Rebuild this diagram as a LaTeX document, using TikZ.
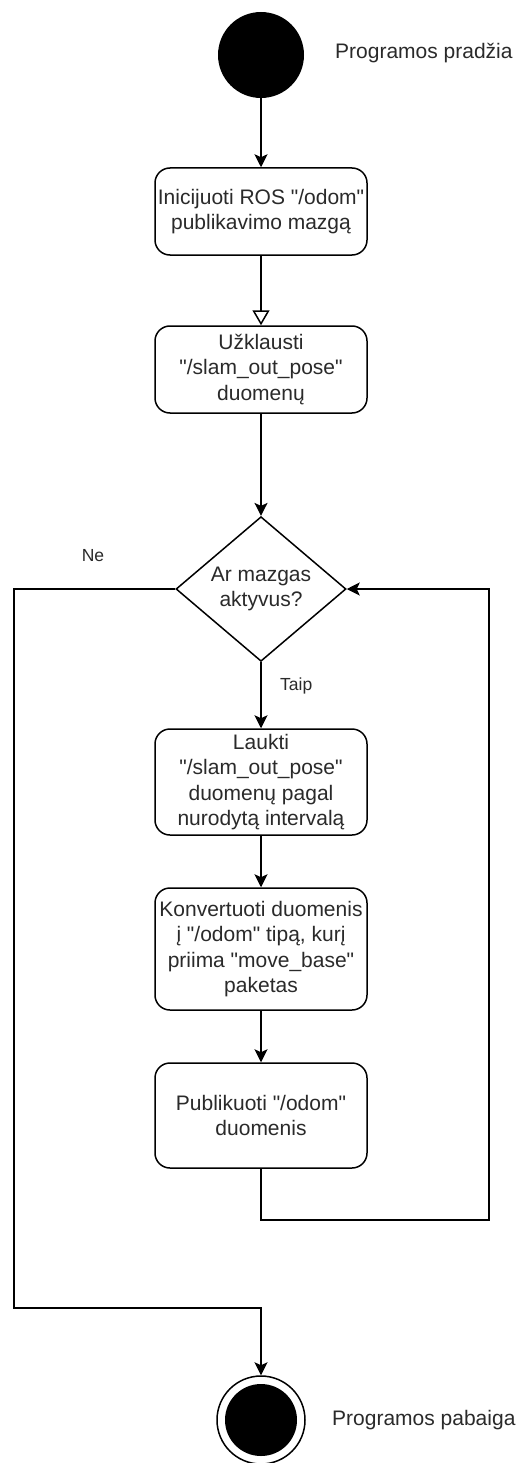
\documentclass[tikz,border=0pt]{standalone}
\usepackage{fontspec}
\setmainfont{Liberation Sans}
\usetikzlibrary{shapes.geometric,arrows.meta}
\definecolor{txt}{HTML}{2a2a2a}
\newcommand{\dq}{\textquotedbl}
\tikzset{
  x=1pt, y=-1pt,
  every node/.style={text=txt},
  flow/.style={line width=1.5pt, draw=black},
  arr/.style={flow, -{Stealth[length=13pt,width=13pt,inset=3pt]}},
  openarr/.style={flow, -{Triangle[open,length=15pt,width=17pt,fill=white]}},
  action/.style={draw=black, line width=1.5pt, rounded corners=15pt, fill=white,
    minimum width=212pt, inner sep=0pt, align=center,
    font=\fontsize{21}{25.5}\selectfont},
  decision/.style={diamond, draw=black, line width=1.5pt, fill=white, inner sep=0pt,
    minimum width=170pt, minimum height=138pt, align=center,
    font=\fontsize{21}{25.5}\selectfont},
  caption/.style={font=\fontsize{21}{25}\selectfont, anchor=west, inner sep=0pt},
  guard/.style={font=\fontsize{17.5}{21}\selectfont, inner sep=0pt}
}
\begin{document}
\begin{tikzpicture}
\useasboundingbox (0,0) rectangle (518,1463);

% initial and final states
\node[circle, fill=black, minimum size=86pt, inner sep=0pt] (start) at (261,55) {};
\node[caption] (startlbl) at (335,53) {Programos pradžia};

\node[circle, draw=black, line width=1.5pt, fill=white, minimum size=88pt, inner sep=0pt,
  path picture={\fill[black] (path picture bounding box.center) circle (36pt);}]
  (stop) at (261,1420) {};
\node[caption] (stoplbl) at (332,1420) {Programos pabaiga};

% actions
\node[action, minimum height=87pt] (b1) at (261,211.5)
  {Inicijuoti ROS \dq/odom\dq\\publikavimo mazgą};
\node[action, minimum height=87pt] (b2) at (261,369.5)
  {Užklausti\\\dq/slam\_out\_pose\dq\\duomenų};
\node[decision] (dec) at (261,589) {Ar mazgas\\aktyvus?};
\node[action, minimum height=106pt] (b3) at (261,782)
  {Laukti\\\dq/slam\_out\_pose\dq\\duomenų pagal\\nurodytą intervalą};
\node[action, minimum height=122pt] (b4) at (261,949)
  {Konvertuoti duomenis\\į \dq/odom\dq{} tipą, kurį\\priima \dq move\_base\dq\\paketas};
\node[action, minimum height=105pt] (b5) at (261,1115.5)
  {Publikuoti \dq/odom\dq\\duomenis};

% guards
\node[guard] (ne) at (93,556) {Ne};
\node[guard, anchor=west] (taip) at (280,686) {Taip};

% routing points
\coordinate (loopR) at (489,1220);
\coordinate (exitL) at (14,1308);

% connectors
\draw[arr] (start) -- (b1);
\draw[openarr] (b1) -- (b2);
\draw[arr] (b2) -- (dec);
\draw[arr] (dec) -- (b3);
\draw[arr] (b3) -- (b4);
\draw[arr] (b4) -- (b5);
\draw[arr] (b5.south) |- (loopR) |- (dec.east);
\draw[arr] (dec.west) -| (exitL) -| (stop.north);
\end{tikzpicture}
\end{document}
